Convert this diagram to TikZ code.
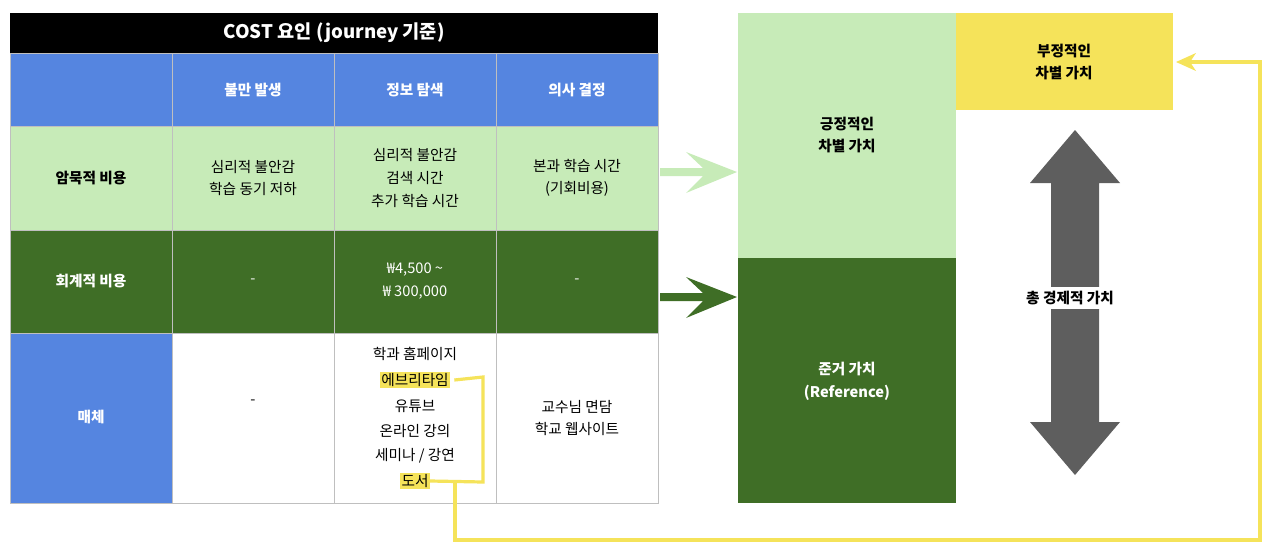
\documentclass[tikz,border=0pt]{standalone}
\usepackage{fontspec}
\setmainfont{Noto Sans CJK KR}
\begin{document}
\begin{tikzpicture}[x=0.75pt,y=-0.75pt,
  cell/.style={draw=gray!50,line width=0.6pt},
  txt/.style={align=center,font=\fontsize{11}{17}\selectfont,inner sep=1pt},
  btxt/.style={txt,font=\fontsize{11}{17}\selectfont\bfseries},
  hl/.style={fill=hly,inner sep=1pt},
  yline/.style={draw=hly,line width=2.4pt}]
\definecolor{blu}{HTML}{5585E0}
\definecolor{lg}{HTML}{C7EBB8}
\definecolor{dg}{HTML}{3F6E26}
\definecolor{hly}{HTML}{F5E35A}
\definecolor{gr}{HTML}{5E5E5E}
\useasboundingbox (0,0) rectangle (1280,557);
% title
\fill[black] (10,13) rectangle (658,53);
\node[font=\fontsize{14}{16}\selectfont\bfseries,text=white] (title) at (334,33) {COST 요인 (journey 기준)};
% header row
\fill[blu] (10,53) rectangle (658,126);
\fill[lg] (10,126) rectangle (658,230);
\fill[dg] (10,230) rectangle (658,333);
\fill[blu] (10,333) rectangle (172,503);
\fill[white] (172,333) rectangle (658,503);
\foreach \x in {172,334,496} \draw[cell] (\x,53) -- (\x,503);
\draw[cell] (10,126) -- (658,126) (10,230) -- (658,230) (10,333) -- (658,333);
\draw[cell] (10,53) rectangle (658,503);
\node[btxt,text=white] (h1) at (253,90) {불만 발생};
\node[btxt,text=white] (h2) at (415,90) {정보 탐색};
\node[btxt,text=white] (h3) at (577,90) {의사 결정};
\node[btxt] (r1) at (91,178) {암묵적 비용};
\node[txt] (c11) at (253,178) {심리적 불안감\\학습 동기 저하};
\node[txt] (c12) at (415,178) {심리적 불안감\\검색 시간\\추가 학습 시간};
\node[txt] (c13) at (577,178) {본과 학습 시간\\(기회비용)};
\node[btxt,text=white] (r2) at (91,281) {회계적 비용};
\node[txt,text=white] (c21) at (253,281) {-};
\node[txt,text=white] (c22) at (415,281) {₩4,500 \textasciitilde\\₩ 300,000};
\node[txt,text=white] (c23) at (577,281) {-};
\node[btxt,text=white] (r3) at (91,417) {매체};
\node[txt] (c31) at (253,402) {-};
\node[txt] (m1) at (415,354) {학과 홈페이지};
\node[txt,hl] (m2) at (415,380) {에브리타임};
\node[txt] (m3) at (415,406) {유튜브};
\node[txt] (m4) at (415,431) {온라인 강의};
\node[txt] (m5) at (415,456) {세미나 / 강연};
\node[txt,hl] (m6) at (415,481) {도서};
\node[txt] (c33) at (577,418) {교수님 면담\\학교 웹사이트};
% right side
\fill[lg] (738,13) rectangle (956,258);
\fill[dg] (738,258) rectangle (956,503);
\fill[hly] (956,13) rectangle (1173,110);
\node[btxt] (pos) at (847,135) {긍정적인\\차별 가치};
\node[btxt,text=white] (ref) at (847,381) {준거 가치\\(Reference)};
\node[btxt] (neg) at (1064,62) {부정적인\\차별 가치};
\coordinate (negin) at (1176,62);
% arrows
\fill[lg] (660,168) -- (703,168) -- (686,152) -- (737,172) -- (686,193) -- (703,176) -- (660,176) -- cycle;
\fill[dg] (660,293) -- (703,293) -- (686,277) -- (737,297) -- (686,318) -- (703,301) -- (660,301) -- cycle;
% double arrow
\fill[gr] (1075,130) -- (1120,183) -- (1099,183) -- (1099,422) -- (1120,422) -- (1075,475) -- (1030,422) -- (1051,422) -- (1051,183) -- (1030,183) -- cycle;
\node[btxt,fill=white,inner sep=3pt] (tot) at (1070,298) {총 경제적 가치};
% yellow connectors
\draw[yline] (m2.east) ++(3pt,0) -- (483,377) -- (483,482) -- (m6.east);
\draw[yline] (455,482) -- (455,540) -- (1260,540) -- (1260,62) -- (1190,62);
\fill[hly] (1176,62) -- (1196,53) -- (1190,62) -- (1196,71) -- cycle;
\end{tikzpicture}
\end{document}
